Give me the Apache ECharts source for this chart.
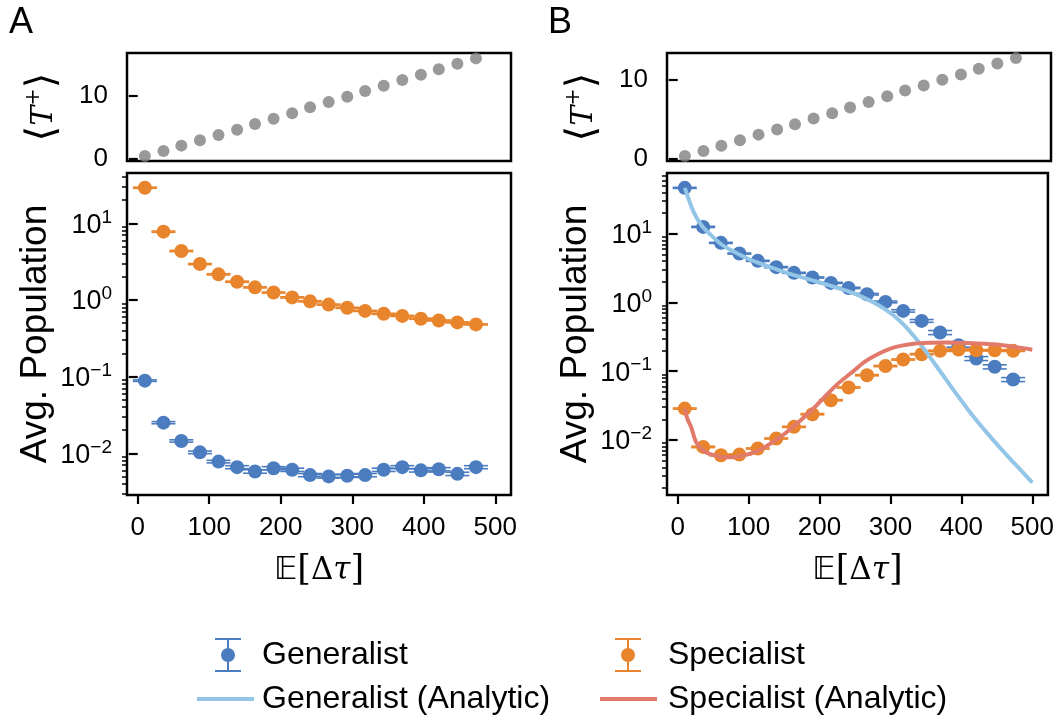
<!DOCTYPE html>
<html><head><meta charset="utf-8">
<script src="https://cdn.jsdelivr.net/npm/echarts@6/dist/echarts.min.js"></script>
<style>html,body{margin:0;padding:0;background:#fff}#c{width:1057px;height:719px}</style>
</head><body><div id="c"></div>
<script>
// ---------- data ----------
const xVals = [10, 36, 61, 87, 113, 139, 164, 190, 216, 241, 267, 293, 318, 344, 370, 396, 421, 447, 473];
const tPlusA = [0.47, 1.26, 2.11, 2.95, 3.79, 4.63, 5.53, 6.37, 7.21, 8.16, 9.0, 9.85, 10.74, 11.58, 12.48, 13.32, 14.17, 15.06, 15.9];
const tPlusB = [0.29, 0.93, 1.61, 2.30, 3.02, 3.66, 4.34, 5.06, 5.74, 6.47, 7.19, 7.91, 8.64, 9.28, 10.0, 10.68, 11.41, 12.09, 12.77];
const genA    = [0.0887, 0.0251, 0.0145, 0.0103, 0.0078, 0.0066, 0.0058, 0.0064, 0.0061, 0.0052, 0.0050, 0.0051, 0.0052, 0.0061, 0.0066, 0.0060, 0.0062, 0.0054, 0.0066];
const genAErr = [0.002, 0.0008, 0.0005, 0.0004, 0.0003, 0.0003, 0.0003, 0.0003, 0.0003, 0.00025, 0.00025, 0.00025, 0.00025, 0.0003, 0.0003, 0.0003, 0.0003, 0.00027, 0.0003];
const specA    = [29.1, 7.78, 4.35, 2.94, 2.16, 1.73, 1.46, 1.25, 1.08, 0.96, 0.87, 0.79, 0.72, 0.66, 0.62, 0.57, 0.54, 0.51, 0.48];
const specAErr = [0.5, 0.15, 0.08, 0.05, 0.04, 0.03, 0.025, 0.02, 0.02, 0.017, 0.015, 0.014, 0.012, 0.011, 0.01, 0.01, 0.009, 0.009, 0.008];
const genB    = [46.6, 12.6, 7.38, 5.16, 4.04, 3.27, 2.70, 2.31, 1.93, 1.63, 1.32, 1.02, 0.755, 0.54, 0.366, 0.239, 0.153, 0.116, 0.0757];
const genBErr = [0.8, 0.25, 0.13, 0.09, 0.07, 0.06, 0.05, 0.045, 0.04, 0.035, 0.035, 0.03, 0.03, 0.025, 0.025, 0.015, 0.01, 0.008, 0.005];
const specB    = [0.0286, 0.00792, 0.00599, 0.00612, 0.0075, 0.0105, 0.0155, 0.0237, 0.0379, 0.058, 0.0875, 0.119, 0.148, 0.177, 0.198, 0.207, 0.202, 0.202, 0.198];
const specBErr = [0.0006, 0.0002, 0.00012, 0.00012, 0.00015, 0.0002, 0.0003, 0.0005, 0.0008, 0.0012, 0.0018, 0.0025, 0.003, 0.0035, 0.004, 0.004, 0.004, 0.004, 0.004];
const genBAnalyticX = [10, 13, 16, 20, 25, 30, 36, 45, 61, 75, 87, 100, 113, 126, 139, 152, 164, 177, 190, 203, 216, 230, 245, 260, 275, 290, 305, 320, 335, 350, 365, 380, 395, 410, 425, 440, 455, 470, 485, 500];
const genBAnalyticY = [46.6, 38, 31, 24, 18.5, 15, 12.4, 10, 7.1, 5.8, 5.0, 4.3, 3.8, 3.4, 3.05, 2.75, 2.5, 2.3, 2.1, 1.92, 1.75, 1.58, 1.40, 1.21, 1.02, 0.83, 0.64, 0.46, 0.306, 0.193, 0.118, 0.0716, 0.0437, 0.0271, 0.0173, 0.01135, 0.0076, 0.00514, 0.00352, 0.0024];
const specBAnalyticX = [10, 14, 19, 26, 35, 44, 60, 77, 95, 114, 132, 151, 170, 189, 207, 226, 245, 263, 282, 300, 316, 333, 355, 380, 410, 450, 475, 500];
const specBAnalyticY = [0.0286, 0.02, 0.0154, 0.0093, 0.0072, 0.0063, 0.0057, 0.0056, 0.006, 0.007, 0.009, 0.0123, 0.018, 0.027, 0.042, 0.066, 0.095, 0.136, 0.177, 0.214, 0.236, 0.252, 0.259, 0.261, 0.257, 0.244, 0.226, 0.206];
const xTicks = [0, 100, 200, 300, 400, 500];
const topTicks = [0, 10];
const logTicks = [0.01, 0.1, 1, 10];
const minorLogTicks = [0.002, 0.003, 0.004, 0.005, 0.006, 0.007, 0.008, 0.009,
  0.02, 0.03, 0.04, 0.05, 0.06, 0.07, 0.08, 0.09,
  0.2, 0.3, 0.4, 0.5, 0.6, 0.7, 0.8, 0.9,
  2, 3, 4, 5, 6, 7, 8, 9, 20, 30, 40, 50, 60, 70];

// ---------- style ----------
const FONT = 'Liberation Sans';
const BLUE = '#4a7cbf', ORANGE = '#e8842b', GRAY = '#808080', LBLUE = '#93c5e6', SALMON = '#e27a6b';
const X_MIN = -15, X_MAX = 522;
const TICK_FS = 26;

const pairs = (xs, ys) => xs.map((x, i) => [x, ys[i]]);
const errRows = (xs, ys, es) => xs.map((x, i) => [x, ys[i], ys[i] - es[i], ys[i] + es[i]]);

function errRender(color) {
  return function (params, api) {
    const x = api.value(0), y = api.value(1), lo = api.value(2), hi = api.value(3);
    const p = api.coord([x, y]), pl = api.coord([x, lo]), ph = api.coord([x, hi]);
    const cw = 12;
    const st = { stroke: color, lineWidth: 1.6, fill: null };
    return { type: 'group', children: [
      { type: 'line', shape: { x1: pl[0], y1: pl[1], x2: ph[0], y2: ph[1] }, style: st },
      { type: 'line', shape: { x1: pl[0] - cw, y1: pl[1], x2: pl[0] + cw, y2: pl[1] }, style: st },
      { type: 'line', shape: { x1: ph[0] - cw, y1: ph[1], x2: ph[0] + cw, y2: ph[1] }, style: st },
      { type: 'circle', shape: { cx: p[0], cy: p[1], r: 7 }, style: { fill: color } }
    ]};
  };
}

const tickStyle = { color: '#000', width: 2.2 };
const logFmt = v => { const e = Math.round(Math.log10(v)); return '{b|10}{s|' + (e < 0 ? '\u2212' + (-e) : e) + '}'; };
const logRich = {
  b: { fontSize: 27, fontFamily: FONT, color: '#000', verticalAlign: 'bottom' },
  s: { fontSize: 19, fontFamily: FONT, color: '#000', verticalAlign: 'bottom', padding: [0, 0, 12, 0] }
};
const xNameRich = {
  e: { fontSize: 32, fontFamily: 'DejaVu Sans', color: '#000' },
  b: { fontSize: 35, fontFamily: 'DejaVu Serif', color: '#000' },
  d: { fontSize: 31, fontFamily: 'DejaVu Serif', color: '#000' },
  t: { fontSize: 31, fontFamily: 'DejaVu Serif', fontStyle: 'italic', color: '#000' }
};
const tNameRich = {
  b: { fontSize: 40, fontFamily: 'DejaVu Sans', color: '#000', verticalAlign: 'bottom' },
  t: { fontSize: 30, fontFamily: 'DejaVu Serif', fontStyle: 'italic', color: '#000', verticalAlign: 'bottom', padding: [0, 0, 5, 0] },
  s: { fontSize: 21, fontFamily: 'DejaVu Serif', color: '#000', verticalAlign: 'bottom', padding: [0, 0, 20, 0] }
};

function xAxisCfg(gi, bottom) {
  return {
    type: 'value', gridIndex: gi, min: X_MIN, max: X_MAX,
    splitLine: { show: false }, axisLine: { show: false },
    axisTick: bottom ? { show: true, customValues: xTicks, length: 9, lineStyle: tickStyle } : { show: false },
    axisLabel: bottom ? { show: true, customValues: xTicks, fontSize: TICK_FS, fontFamily: FONT, color: '#000', margin: 20 } : { show: false },
    name: bottom ? '{e|\uD835\uDD3C}{b|[}{d|\u0394}{t|\u03C4}{b|]}' : '',
    nameLocation: 'middle', nameGap: 58, nameTextStyle: { rich: xNameRich }
  };
}
function topYAxis(gi, min, max) {
  return {
    type: 'value', gridIndex: gi, min: min, max: max,
    splitLine: { show: false }, axisLine: { show: false },
    axisTick: { show: true, customValues: topTicks, length: 9, lineStyle: tickStyle },
    axisLabel: { show: true, customValues: topTicks, fontSize: TICK_FS, fontFamily: FONT, color: '#000', margin: 19 },
    name: '{b|\u27E8}{t|T}{s|+}{b|\u27E9}', nameLocation: 'middle', nameRotate: 90, nameGap: 63,
    nameTextStyle: { rich: tNameRich }
  };
}
function logYAxis(gi, min, max) {
  return {
    type: 'log', logBase: 10, gridIndex: gi, min: min, max: max,
    splitLine: { show: false }, axisLine: { show: false },
    axisTick: { show: true, customValues: logTicks, length: 9, lineStyle: tickStyle },
    axisLabel: { show: true, customValues: logTicks, formatter: logFmt, rich: logRich, margin: 15 },
    name: 'Avg. Population', nameLocation: 'middle', nameRotate: 90, nameGap: 73,
    nameTextStyle: { fontSize: 37, fontFamily: FONT, color: '#000' }
  };
}
function minorYAxis(gi, min, max) {
  return {
    type: 'log', logBase: 10, gridIndex: gi, min: min, max: max, position: 'left',
    splitLine: { show: false }, axisLine: { show: false },
    axisTick: { show: true, customValues: minorLogTicks, length: 5, lineStyle: { color: '#000', width: 1.5 } },
    axisLabel: { show: false }
  };
}

const ERR_ICON = 'path://M0 0H26V2H0Z M12 2H14V32H12Z M0 32H26V34H0Z M13 10A7 7 0 1 1 13 24A7 7 0 1 1 13 10Z';
const legendText = pad => ({ fontSize: 32, fontFamily: FONT, color: '#000', padding: [0, 0, 0, pad] });

const gridBox = { show: true, borderColor: '#000', borderWidth: 2.5, backgroundColor: 'transparent' };

const option = {
  backgroundColor: '#fff',
  animation: false,
  title: [
    { text: 'A', left: 4, top: 0, textStyle: { fontSize: 36, fontWeight: 'normal', fontFamily: FONT, color: '#000' } },
    { text: 'B', left: 543, top: 0, textStyle: { fontSize: 36, fontWeight: 'normal', fontFamily: FONT, color: '#000' } }
  ],
  grid: [
    Object.assign({ left: 127, top: 53, width: 384, height: 108 }, gridBox),
    Object.assign({ left: 127, top: 173, width: 384, height: 322 }, gridBox),
    Object.assign({ left: 667, top: 53, width: 384, height: 108 }, gridBox),
    Object.assign({ left: 667, top: 173, width: 384, height: 322 }, gridBox)
  ],
  xAxis: [xAxisCfg(0, false), xAxisCfg(1, true), xAxisCfg(2, false), xAxisCfg(3, true)],
  yAxis: [
    topYAxis(0, -0.32, 16.75),
    logYAxis(1, 0.00286, 45.3),
    topYAxis(2, -0.34, 13.42),
    logYAxis(3, 0.00158, 76.7),
    minorYAxis(1, 0.00286, 45.3),
    minorYAxis(3, 0.00158, 76.7)
  ],
  legend: [
    { data: [{ name: 'Generalist', icon: ERR_ICON }], left: 215, top: 638, padding: 0, itemWidth: 26, itemHeight: 34, selectedMode: false, textStyle: legendText(16) },
    { data: [{ name: 'Specialist', icon: ERR_ICON }], left: 615, top: 638, padding: 0, itemWidth: 26, itemHeight: 34, selectedMode: false, textStyle: legendText(22) },
    { data: [{ name: 'Generalist (Analytic)', icon: 'rect' }], left: 197, top: 683, padding: 0, itemWidth: 57, itemHeight: 4, selectedMode: false, textStyle: legendText(3) },
    { data: [{ name: 'Specialist (Analytic)', icon: 'rect' }], left: 600, top: 683, padding: 0, itemWidth: 57, itemHeight: 4, selectedMode: false, textStyle: legendText(6) }
  ],
  series: [
    { type: 'scatter', xAxisIndex: 0, yAxisIndex: 0, data: pairs(xVals, tPlusA), symbolSize: 12, itemStyle: { color: GRAY }, silent: true },
    { type: 'scatter', xAxisIndex: 2, yAxisIndex: 2, data: pairs(xVals, tPlusB), symbolSize: 12, itemStyle: { color: GRAY }, silent: true },
    { name: 'Generalist (Analytic)', type: 'line', xAxisIndex: 3, yAxisIndex: 3, data: pairs(genBAnalyticX, genBAnalyticY),
      showSymbol: false, smooth: 0.25, lineStyle: { color: LBLUE, width: 4 }, itemStyle: { color: LBLUE }, silent: true },
    { name: 'Specialist (Analytic)', type: 'line', xAxisIndex: 3, yAxisIndex: 3, data: pairs(specBAnalyticX, specBAnalyticY),
      showSymbol: false, smooth: 0.3, lineStyle: { color: SALMON, width: 4 }, itemStyle: { color: SALMON }, silent: true },
    { name: 'Generalist', type: 'custom', xAxisIndex: 1, yAxisIndex: 1, data: errRows(xVals, genA, genAErr), encode: { x: 0, y: 1 },
      renderItem: errRender(BLUE), itemStyle: { color: BLUE }, silent: true },
    { name: 'Specialist', type: 'custom', xAxisIndex: 1, yAxisIndex: 1, data: errRows(xVals, specA, specAErr), encode: { x: 0, y: 1 },
      renderItem: errRender(ORANGE), itemStyle: { color: ORANGE }, silent: true },
    { name: 'Generalist', type: 'custom', xAxisIndex: 3, yAxisIndex: 3, data: errRows(xVals, genB, genBErr), encode: { x: 0, y: 1 },
      renderItem: errRender(BLUE), itemStyle: { color: BLUE }, silent: true },
    { name: 'Specialist', type: 'custom', xAxisIndex: 3, yAxisIndex: 3, data: errRows(xVals, specB, specBErr), encode: { x: 0, y: 1 },
      renderItem: errRender(ORANGE), itemStyle: { color: ORANGE }, silent: true }
  ]
};
const chart = echarts.init(document.getElementById('c'));
chart.setOption(option);
</script></body></html>
